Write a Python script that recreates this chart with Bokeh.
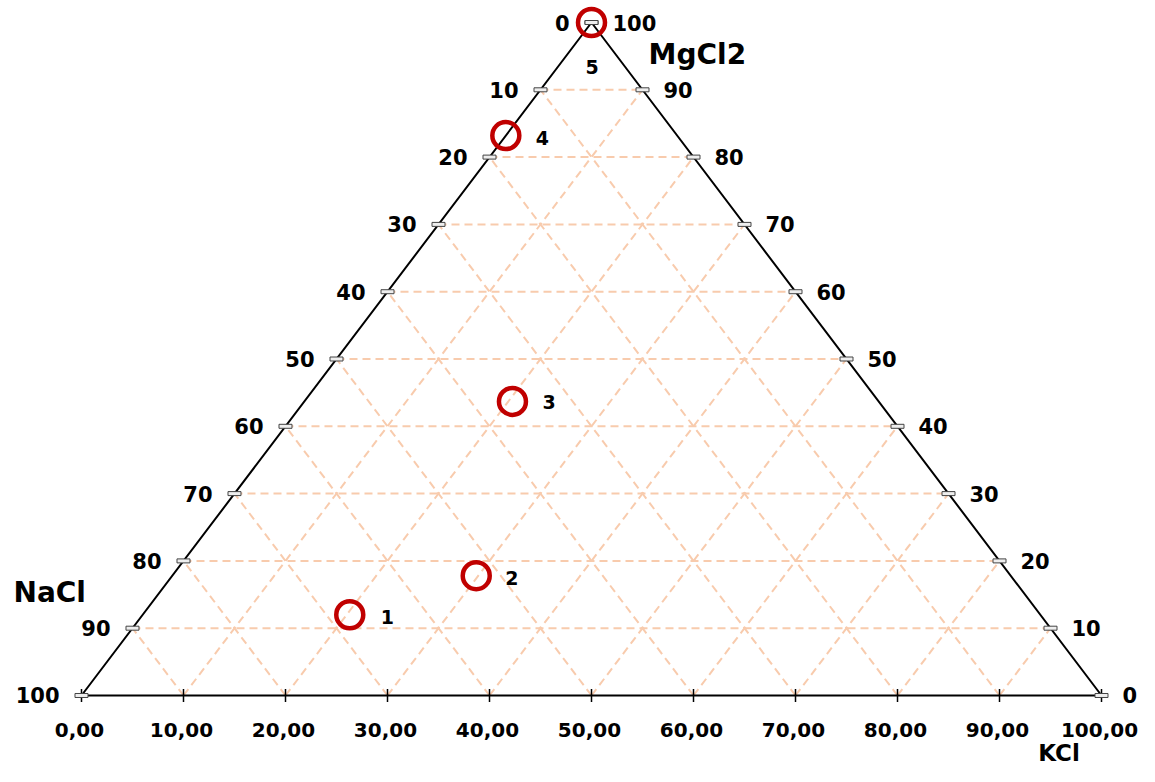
import numpy as np
from bokeh.plotting import figure
from bokeh.models import ColumnDataSource, Range1d
from bokeh.embed import file_html
from bokeh.resources import INLINE
from bokeh.core.properties import value

# ---------------- data ----------------
point_labels = ["1", "2", "3", "4", "5"]
nacl = [67.7, 52.4, 35.9, 16.8, 0.0]
kcl = [20.3, 29.8, 20.4, 0.0, 0.0]
mgcl2 = [12.0, 17.8, 43.7, 83.2, 100.0]

tick_values = [0, 10, 20, 30, 40, 50, 60, 70, 80, 90, 100]
bottom_tick_labels = ["0,00", "10,00", "20,00", "30,00", "40,00", "50,00",
                      "60,00", "70,00", "80,00", "90,00", "100,00"]
nacl_tick_labels = ["0", "10", "20", "30", "40", "50", "60", "70", "80", "90", "100"]
mgcl2_tick_labels = ["0", "10", "20", "30", "40", "50", "60", "70", "80", "90", "100"]
grid_values = [10, 20, 30, 40, 50, 60, 70, 80, 90]

# ---------------- style ----------------
FONT = value("DejaVu Sans")
GRID_COLOR = "#F8CBAD"
POINT_COLOR = "#C00000"
label_x_off = [31, 29, 30, 30, -6]
label_y_off = [2, 2, 1, 2, 44]


def tern(na, k, mg):
    na, k, mg = np.asarray(na, float), np.asarray(k, float), np.asarray(mg, float)
    return k + mg / 2.0, mg


p = figure(width=1139, height=766, output_backend="svg", toolbar_location=None,
           x_range=Range1d(-7.941, 103.725), y_range=Range1d(-10.55, 103.27),
           min_border=0)
p.axis.visible = False
p.xgrid.visible = False
p.ygrid.visible = False
p.outline_line_color = None
p.background_fill_color = "white"

gv = np.array(grid_values, float)
# horizontal grid (constant MgCl2)
hx0, hy0 = tern(100 - gv, 0 * gv, gv)
hx1, hy1 = tern(0 * gv, 100 - gv, gv)
# constant KCl
kx0, ky0 = tern(100 - gv, gv, 0 * gv)
kx1, ky1 = tern(0 * gv, gv, 100 - gv)
# constant NaCl
nx0, ny0 = tern(gv, 100 - gv, 0 * gv)
nx1, ny1 = tern(gv, 0 * gv, 100 - gv)
for a, b, c, d in [(hx0, hy0, hx1, hy1), (kx0, ky0, kx1, ky1), (nx0, ny0, nx1, ny1)]:
    p.segment(x0=a, y0=b, x1=c, y1=d, line_color=GRID_COLOR, line_width=2,
              line_dash="8 5")

# triangle
tx, ty = tern([100, 0, 0, 100], [0, 100, 0, 0], [0, 0, 100, 0])
p.line(tx, ty, line_color="black", line_width=2)

tv = np.array(tick_values, float)
# bottom ticks (KCl)
bx, by = tern(100 - tv, tv, 0 * tv)
p.scatter(bx, by, marker="dash", size=13, angle=np.pi / 2, line_color="black",
          line_width=1.5)
p.text(bx, by, text=bottom_tick_labels, text_font=FONT, text_font_style="bold",
       text_font_size="20px", text_align="center", text_baseline="middle",
       x_offset=-2, y_offset=35, text_color="black")

# left ticks (NaCl)
lx, ly = tern(tv, 0 * tv, 100 - tv)
p.rect(lx, ly, width=13, height=4, width_units="screen", height_units="screen",
       fill_color="#eeeeee", line_color="#444444", line_width=1)
p.text(lx, ly, text=nacl_tick_labels, text_font=FONT, text_font_style="bold",
       text_font_size="21px", text_align="right", text_baseline="middle",
       x_offset=-22, text_color="black")

# right ticks (MgCl2)
rx, ry = tern(0 * tv, 100 - tv, tv)
p.rect(rx, ry, width=13, height=4, width_units="screen", height_units="screen",
       fill_color="#eeeeee", line_color="#444444", line_width=1)
p.text(rx, ry, text=mgcl2_tick_labels, text_font=FONT, text_font_style="bold",
       text_font_size="21px", text_align="left", text_baseline="middle",
       x_offset=21, text_color="black")

# axis titles
p.text([-6.67], [15.3], text=["NaCl"], text_font=FONT, text_font_style="bold",
       text_font_size="28px", text_align="left", text_baseline="middle")
p.text([55.6], [95.2], text=["MgCl2"], text_font=FONT, text_font_style="bold",
       text_font_size="28px", text_align="left", text_baseline="middle")
p.text([93.8], [-8.5], text=["KCl"], text_font=FONT, text_font_style="bold",
       text_font_size="23px", text_align="left", text_baseline="alphabetic")

# points
px_, py_ = tern(nacl, kcl, mgcl2)
src = ColumnDataSource(dict(x=px_, y=py_, lab=point_labels,
                            xo=label_x_off, yo=label_y_off))
p.scatter("x", "y", source=src, marker="circle", size=27, fill_color=None,
          line_color=POINT_COLOR, line_width=4.5)
p.text("x", "y", text="lab", source=src, x_offset="xo", y_offset="yo",
       text_font=FONT, text_font_style="bold", text_font_size="19px",
       text_align="left", text_baseline="middle", text_color="black")

open("out.html", "w").write(file_html(p, INLINE))
